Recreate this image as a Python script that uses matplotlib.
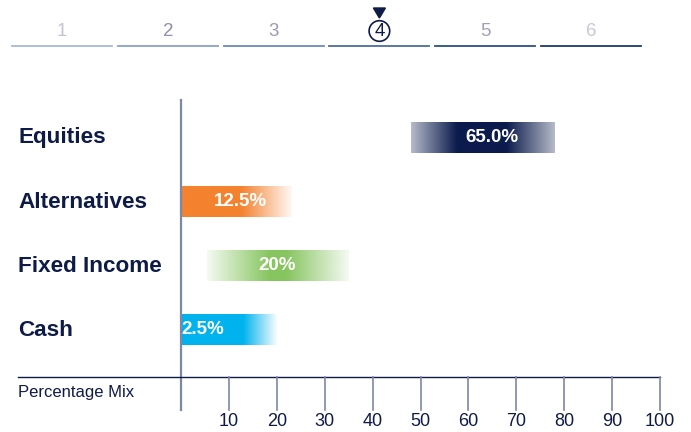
import numpy as np
import matplotlib.pyplot as plt
from matplotlib.transforms import blended_transform_factory
from matplotlib.patches import Circle, Polygon

plt.rcParams['font.family'] = ['Liberation Sans', 'DejaVu Sans']

# allocation per asset class, with the band shown around it
categories = ['Equities', 'Alternatives', 'Fixed Income', 'Cash']
labels = ['65.0%', '12.5%', '20%', '2.5%']
values = [65.0, 12.5, 20.0, 2.5]
range_lo = [48.0, 0.0, 5.5, 0.0]
range_hi = [78.0, 23.0, 35.0, 20.0]
core_lo = [57.5, 0.0, 18.5, 0.0]
core_hi = [68.0, 12.5, 22.0, 13.0]
colors = ['#0b1b4d', '#f4822f', '#86c55f', '#00b3ee']

ticks = list(range(10, 101, 10))
steps = [1, 2, 3, 4, 5, 6]
current_step = 4

NAVY = '#0f1b47'
AXIS_GREY = '#7d87a6'
edge_alpha = [0.3, 0.05, 0.08, 0.03]
step_num_colors = ['#c3c3d3', '#8f8fae', '#9b9bb5', NAVY, '#a0a0bb', '#c8c8d6']
step_line_colors = ['#a9b9d2', '#8aa0c4', '#6f8ab5', '#4d6c9c', '#2f5084', '#1d3a6a']

W, H = 691, 432
fig = plt.figure(figsize=(W / 100, H / 100), dpi=100)

# main chart axes: x in percent, y in row index (0 at top)
px0, px100 = 181, 660
ytop, ybot = 90, 432
row0, row_h = 138, 64
ax = fig.add_axes([px0 / W, 1 - ybot / H, (px100 - px0) / W, (ybot - ytop) / H])
ax.axis('off')

bar_h = 0.48
for i, cat in enumerate(categories):
    xs = np.linspace(range_lo[i], range_hi[i], 300)
    xp = [range_lo[i], core_lo[i], core_hi[i], range_hi[i]]
    a_left = 1.0 if core_lo[i] == range_lo[i] else edge_alpha[i]
    alpha = np.interp(xs, xp, [a_left, 1.0, 1.0, edge_alpha[i]])
    rgba = np.zeros((1, len(xs), 4))
    rgba[..., :3] = plt.matplotlib.colors.to_rgb(colors[i])
    rgba[..., 3] = alpha
    ax.imshow(rgba, extent=[range_lo[i], range_hi[i], i + bar_h / 2, i - bar_h / 2],
              aspect='auto', interpolation='bilinear', zorder=2)
    if values[i] - range_lo[i] < 6:
        ax.text(range_lo[i] + 0.1, i, labels[i], ha='left', va='center',
                color='white', fontsize=13.5, fontweight='bold', zorder=3)
    else:
        ax.text(values[i], i, labels[i], ha='center', va='center',
                color='white', fontsize=13.5, fontweight='bold', zorder=3)

ax.set_xlim(0, 100)
ax.set_ylim((ybot - row0) / row_h, (ytop - row0) / row_h)

# category names on the left
lab_tr = blended_transform_factory(fig.transFigure, ax.transData)
for i, cat in enumerate(categories):
    ax.text(18 / W, i, cat, transform=lab_tr, ha='left', va='center',
            color=NAVY, fontsize=16.2, fontweight='bold')

# axis lines and ticks
y_axis = (377 - row0) / row_h
y_tick_end = (410 - row0) / row_h
y_vtop = (100 - row0) / row_h
ax.plot([0, 0], [y_vtop, y_tick_end], color=AXIS_GREY, lw=1.6, clip_on=False)
ax.plot([-163 / 4.79, 100], [y_axis, y_axis], color=NAVY, lw=1.0, clip_on=False)
for t in ticks:
    ax.plot([t, t], [y_axis, y_tick_end], color=AXIS_GREY, lw=1.2, clip_on=False)
    ax.text(t, (421 - row0) / row_h, str(t), ha='center', va='center',
            color=NAVY, fontsize=13)
ax.text(18 / W, (393 - row0) / row_h, 'Percentage Mix', transform=lab_tr,
        ha='left', va='center', color=NAVY, fontsize=12)

# step indicator across the top
top = fig.add_axes([0, 0, 1, 1])
top.set_xlim(0, W)
top.set_ylim(H, 0)
top.axis('off')
for k, s in enumerate(steps):
    cx = 62 + 105.8 * k
    top.plot([cx - 50, cx + 50], [46, 46], color=step_line_colors[k], lw=1.3)
    top.text(cx, 32, str(s), ha='center', va='center',
             color=step_num_colors[k], fontsize=13.5)
    if s == current_step:
        top.add_patch(Circle((cx, 31), 10.3, fill=False, ec=NAVY, lw=1.2))
        top.add_patch(Polygon([[cx - 6, 8], [cx + 6, 8], [cx, 18]],
                              closed=True, color=NAVY))

fig.savefig('out.png', dpi=100)
